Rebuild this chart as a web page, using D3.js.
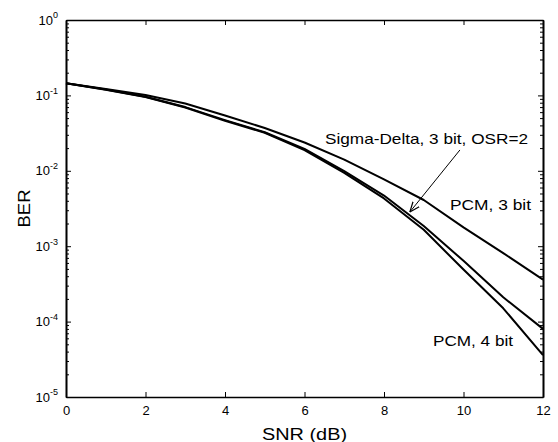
<!DOCTYPE html>
<html>
<head>
<meta charset="utf-8">
<script src="https://cdn.jsdelivr.net/npm/d3@7"></script>
<style>
  body { margin: 0; background: #fff; }
  text { font-family: "Liberation Sans", Arial, sans-serif; fill: #000; }
</style>
</head>
<body>
<div id="chart"></div>
<script>
/* DATA */
const snr = [0, 1, 2, 3, 4, 5, 6, 7, 8, 9, 10, 11, 12];
const pcm3 = [0.145, 0.122, 0.101, 0.078, 0.054, 0.037, 0.0237, 0.0141, 0.0077, 0.0041, 0.00178, 0.00081, 0.00036];
const sigmaDelta = [0.145, 0.12, 0.096, 0.07, 0.047, 0.0325, 0.0195, 0.0099, 0.0047, 0.00185, 0.00064, 0.00021, 0.00008];
const pcm4 = [0.145, 0.119, 0.095, 0.069, 0.046, 0.032, 0.0188, 0.0094, 0.0043, 0.00165, 0.00049, 0.00015, 0.000036];
const xTicks = [0, 2, 4, 6, 8, 10, 12];
const yExponents = [-5, -4, -3, -2, -1, 0];

/* CONSTANTS */
const width = 558, height = 442,
  margin = { top: 20, bottom: 45, left: 66, right: 15 };

const svg = d3.select("#chart")
  .append("svg")
  .attr("width", width)
  .attr("height", height);

// scales
const xScale = d3.scaleLinear()
  .domain([0, 12])
  .range([margin.left, width - margin.right]);

const yScale = d3.scaleLog()
  .domain([1e-5, 1])
  .range([height - margin.bottom, margin.top]);

const majors = yExponents.map(e => Math.pow(10, e));
const minors = [];
yExponents.slice(0, -1).forEach(e => {
  for (let k = 2; k <= 9; k++) minors.push(k * Math.pow(10, e));
});

// axes - ticks point inward like matlab
function styleAxis(g) {
  g.selectAll("path.domain").attr("stroke", "#000").attr("stroke-width", 1.6);
  g.selectAll(".tick line").attr("stroke", "#000");
}

svg.append("g")
  .attr("transform", `translate(0,${height - margin.bottom})`)
  .call(d3.axisBottom(xScale).tickValues(xTicks).tickSizeInner(-5).tickSizeOuter(0).tickPadding(9))
  .call(styleAxis)
  .call(g => g.selectAll(".tick text").attr("font-size", 13));

svg.append("g")
  .attr("transform", `translate(0,${margin.top})`)
  .call(d3.axisTop(xScale).tickValues(xTicks).tickSizeInner(-5).tickSizeOuter(0).tickFormat(""))
  .call(styleAxis);

// y major ticks with 10^n labels
const yAxisLeft = svg.append("g")
  .attr("transform", `translate(${margin.left},0)`)
  .call(d3.axisLeft(yScale).tickValues(majors).tickSizeInner(-5).tickSizeOuter(0).tickPadding(8).tickFormat(""))
  .call(styleAxis);

yAxisLeft.selectAll(".tick text").each(function(d) {
  const t = d3.select(this)
    .attr("font-size", 13)
    .attr("dy", "0.32em");
  t.append("tspan").text("10");
  t.append("tspan")
    .attr("font-size", 9)
    .attr("dy", "-0.7em")
    .text(Math.round(Math.log10(d)));
});

svg.append("g")
  .attr("transform", `translate(${margin.left},0)`)
  .call(d3.axisLeft(yScale).tickValues(minors).tickSizeInner(-3).tickSizeOuter(0).tickFormat(""))
  .call(styleAxis);

svg.append("g")
  .attr("transform", `translate(${width - margin.right},0)`)
  .call(d3.axisRight(yScale).tickValues(majors).tickSizeInner(-5).tickSizeOuter(0).tickFormat(""))
  .call(styleAxis);

svg.append("g")
  .attr("transform", `translate(${width - margin.right},0)`)
  .call(d3.axisRight(yScale).tickValues(minors).tickSizeInner(-3).tickSizeOuter(0).tickFormat(""))
  .call(styleAxis);

// axis titles
svg.append("text")
  .attr("x", (xScale.range()[0] + xScale.range()[1]) / 2)
  .attr("y", height - 2)
  .attr("text-anchor", "middle")
  .attr("font-size", 16)
  .attr("textLength", 85)
  .attr("lengthAdjust", "spacingAndGlyphs")
  .text("SNR (dB)");

svg.append("text")
  .attr("transform", `translate(30,${(yScale.range()[0] + yScale.range()[1]) / 2}) rotate(-90)`)
  .attr("text-anchor", "middle")
  .attr("font-size", 17)
  .attr("textLength", 38)
  .attr("lengthAdjust", "spacingAndGlyphs")
  .text("BER");

// curves
const line = d3.line()
  .x((d, i) => xScale(snr[i]))
  .y(d => yScale(d));

[pcm3, sigmaDelta, pcm4].forEach(series => {
  svg.append("path")
    .datum(series)
    .attr("fill", "none")
    .attr("stroke", "#000")
    .attr("stroke-width", 2)
    .attr("stroke-linejoin", "round")
    .attr("d", line);
});

// annotations
svg.append("defs").append("marker")
  .attr("id", "arrow")
  .attr("viewBox", "0 0 10 10")
  .attr("refX", 10).attr("refY", 5)
  .attr("markerWidth", 10).attr("markerHeight", 10)
  .attr("markerUnits", "userSpaceOnUse")
  .attr("orient", "auto")
  .append("path")
  .attr("d", "M0,1 L10,5 L0,9")
  .attr("fill", "none")
  .attr("stroke", "#000")
  .attr("stroke-width", 1.2);

svg.append("line")
  .attr("x1", xScale(9.91)).attr("y1", yScale(0.0189))
  .attr("x2", xScale(8.65)).attr("y2", yScale(0.00284))
  .attr("stroke", "#000")
  .attr("stroke-width", 1)
  .attr("marker-end", "url(#arrow)");

svg.append("text")
  .attr("x", 325).attr("y", yScale(0.0227))
  .attr("font-size", 15)
  .attr("textLength", 203)
  .attr("lengthAdjust", "spacingAndGlyphs")
  .text("Sigma-Delta, 3 bit, OSR=2");

svg.append("text")
  .attr("x", 450).attr("y", yScale(0.003))
  .attr("font-size", 15)
  .attr("textLength", 81)
  .attr("lengthAdjust", "spacingAndGlyphs")
  .text("PCM, 3 bit");

svg.append("text")
  .attr("x", 433).attr("y", yScale(0.000048))
  .attr("font-size", 15)
  .attr("textLength", 80)
  .attr("lengthAdjust", "spacingAndGlyphs")
  .text("PCM, 4 bit");
</script>
</body>
</html>
